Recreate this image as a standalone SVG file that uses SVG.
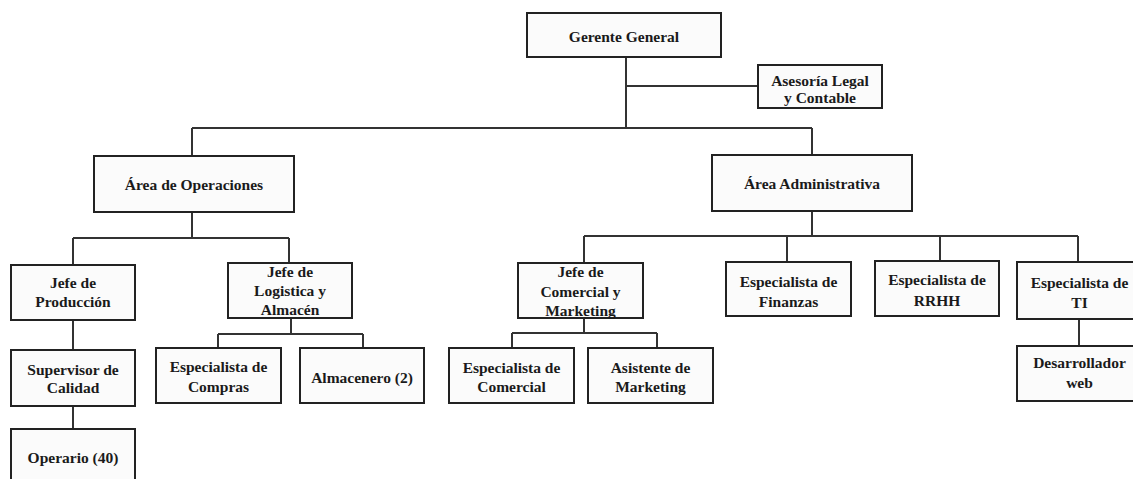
<svg xmlns="http://www.w3.org/2000/svg" width="1133" height="479" viewBox="0 0 1133 479">
<style>
.box{fill:#fbfbfb;stroke:#222;stroke-width:2}
.t{font-family:"Liberation Serif","Times New Roman",serif;font-weight:bold;font-size:15.5px;fill:#1a1a1a;text-anchor:middle}
.c{fill:none;stroke:#333;stroke-width:2}
</style>
<rect x="0" y="0" width="1133" height="479" fill="#ffffff"/>
<g id="connectors">
<path class="c" d="M626 57V128M626 86H758M192 128H812M192 128V156M812 128V155"/>
<path class="c" d="M192 212V238M73 238H289M73 238V265M289 238V263"/>
<path class="c" d="M812 211V236M584 236H1078M584 236V263M787 236V262M940 236V261M1078 236V262"/>
<path class="c" d="M73 320V350M73 406V429"/>
<path class="c" d="M291 318V334M218 334H363M218 334V348M363 334V348"/>
<path class="c" d="M584 318V333M512 333H657M512 333V348M657 333V348"/>
<path class="c" d="M1079 319V346"/>
</g>
<g id="gerente"><rect class="box" x="527" y="13" width="194" height="44"/><text class="t" x="624" y="42">Gerente General</text></g>
<g id="asesoria"><rect class="box" x="758" y="65" width="124" height="43"/><text class="t" x="820" y="86">Asesoría Legal</text><text class="t" x="820" y="103">y Contable</text></g>
<g id="operaciones"><rect class="box" x="94" y="156" width="200" height="56"/><text class="t" x="194" y="190">Área de Operaciones</text></g>
<g id="administrativa"><rect class="box" x="712" y="155" width="200" height="56"/><text class="t" x="812" y="189">Área Administrativa</text></g>
<g id="jefe-produccion"><rect class="box" x="11" y="265" width="124" height="55"/><text class="t" x="73" y="288">Jefe de</text><text class="t" x="73" y="307">Producción</text></g>
<g id="supervisor"><rect class="box" x="11" y="350" width="124" height="56"/><text class="t" x="73" y="375">Supervisor de</text><text class="t" x="73" y="393">Calidad</text></g>
<g id="operario"><rect class="box" x="11" y="429" width="124" height="60"/><text class="t" x="73" y="463">Operario (40)</text></g>
<g id="jefe-logistica"><rect class="box" x="228" y="263" width="124" height="55"/><text class="t" x="290" y="277">Jefe de</text><text class="t" x="290" y="296">Logistica y</text><text class="t" x="290" y="315">Almacén</text></g>
<g id="compras"><rect class="box" x="156" y="348" width="125" height="55"/><text class="t" x="218.5" y="372">Especialista de</text><text class="t" x="218.5" y="392">Compras</text></g>
<g id="almacenero"><rect class="box" x="300" y="348" width="124" height="55"/><text class="t" x="362" y="383">Almacenero (2)</text></g>
<g id="jefe-comercial"><rect class="box" x="518" y="263" width="125" height="55"/><text class="t" x="580.5" y="277">Jefe de</text><text class="t" x="580.5" y="297">Comercial y</text><text class="t" x="580.5" y="316">Marketing</text></g>
<g id="esp-comercial"><rect class="box" x="449" y="348" width="125" height="55"/><text class="t" x="511.5" y="373">Especialista de</text><text class="t" x="511.5" y="392">Comercial</text></g>
<g id="asistente"><rect class="box" x="588" y="348" width="125" height="55"/><text class="t" x="650.5" y="373">Asistente de</text><text class="t" x="650.5" y="392">Marketing</text></g>
<g id="finanzas"><rect class="box" x="726" y="262" width="125" height="54"/><text class="t" x="788.5" y="287">Especialista de</text><text class="t" x="788.5" y="307">Finanzas</text></g>
<g id="rrhh"><rect class="box" x="875" y="261" width="124" height="55"/><text class="t" x="937" y="285">Especialista de</text><text class="t" x="937" y="306">RRHH</text></g>
<g id="ti"><rect class="box" x="1017" y="262" width="125" height="57"/><text class="t" x="1079.5" y="288">Especialista de</text><text class="t" x="1079.5" y="308">TI</text></g>
<g id="desarrollador"><rect class="box" x="1017" y="346" width="125" height="55"/><text class="t" x="1079.5" y="368">Desarrollador</text><text class="t" x="1079.5" y="388">web</text></g>
</svg>
